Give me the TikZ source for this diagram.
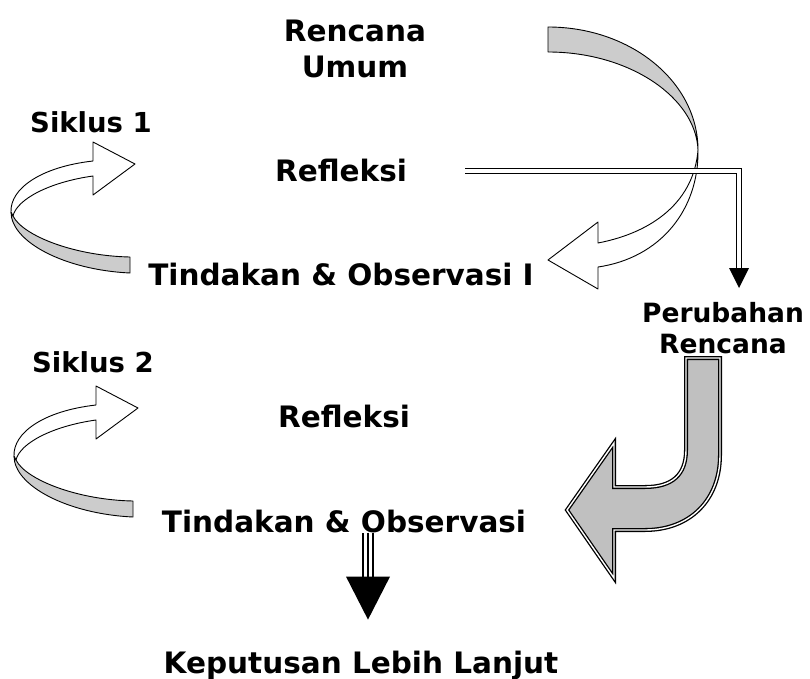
\documentclass[tikz,border=0pt]{standalone}
\usepackage{fontspec}
\setmainfont{DejaVu Sans}
\definecolor{ribbongray}{HTML}{CCCCCC}
\definecolor{bentgray}{HTML}{C0C0C0}

\begin{document}
\begin{tikzpicture}[x=1pt,y=-1pt]

\tikzset{stage/.style={font=\fontsize{29.5}{36}\selectfont\bfseries,inner sep=0pt,anchor=base},
cyclelabel/.style={font=\fontsize{27.5}{32}\selectfont\bfseries,inner sep=0pt,anchor=base},
changelabel/.style={font=\fontsize{26.5}{31}\selectfont\bfseries,inner sep=0pt,align=center},
ribbon/.style={fill=ribbongray,draw=black,line width=0.9pt,line join=round},
face/.style={fill=white,draw=black,line width=0.9pt,line join=round},
bent/.style={fill=bentgray,draw=black,line width=1.3pt,double=white,double distance=1.4pt,line join=miter},
dbl/.style={draw=black,line width=1.8pt,double=white,double distance=3.2pt},
triple/.style={draw=black,line width=2.5pt,double=white,double distance=7.5pt},
triplemid/.style={draw=black,line width=2.5pt},
cyclearrow/.pic={
  \filldraw[ribbon] (-124,48) .. controls (-124,78) and (-70,106) .. (-5,109) -- (-5,93)
    .. controls (-60,92) and (-112,72) .. (-122,52) -- cycle;
  \filldraw[face] (0,0) -- (-42,-22) -- (-42,-3) .. controls (-95,3) and (-125,25) .. (-124,48)
    -- (-122,52) .. controls (-118,35) and (-85,18) .. (-42,12) -- (-42,31) -- cycle;
}}

\useasboundingbox (0,0) rectangle (810,679);

% Cycle arrows
\pic at (135,164) {cyclearrow};
\pic at (138,408) {cyclearrow};

% Curved arrow from the general plan
\filldraw[ribbon] (548,27) .. controls (631,27) and (698,82) .. (698,150)
  .. controls (696,98) and (630,52) .. (548,52) -- cycle;
\filldraw[face] (698,150) .. controls (699,210) and (660,258) .. (598,267) -- (598,289)
  -- (548,260) -- (598,222) -- (598,243) .. controls (655,232) and (694,200) .. (698,150) -- cycle;

% Bent arrow from the changed plan
\filldraw[bent] (686,358) -- (720,358) -- (720,455) .. controls (720,500) and (690,530) .. (645,530)
  -- (614,530) -- (614,578) -- (567,510) -- (614,443) -- (614,487) -- (645,487)
  .. controls (672,487) and (686,475) .. (686,450) -- cycle;

% Stage labels
\node (plan) [stage,anchor=center,align=center] at (355,49) {Rencana\\Umum};
\node (cyc1) [cyclelabel] at (91,133) {Siklus 1};
\node (refl1) [stage] at (341,182) {Refleksi};
\node (act1) [stage] at (341,285) {Tindakan \& Observasi I};
\node (change) [changelabel] at (723,328) {Perubahan\\Rencana};
\node (cyc2) [cyclelabel] at (93,372) {Siklus 2};
\node (refl2) [stage] at (344,427) {Refleksi};
\node (act2) [stage] at (344,532) {Tindakan \& Observasi};
\node (decide) [stage] at (361,673) {Keputusan Lebih Lanjut};

% Reflection to changed plan
\coordinate (out1) at ([xshift=58pt]refl1.east);
\coordinate (into) at (739,268);
\draw[dbl] (out1) -| (into);
\fill (into) +(-10,0) -- +(10,0) -- +(0,20) -- cycle;

% Action to final decision
\coordinate (drop) at ([xshift=24pt]act2.south);
\draw[triple] (drop) -- ++(0,44) coordinate (drophead);
\draw[triplemid] (drop) -- (drophead);
\fill (drophead) +(-22,0) -- +(22,0) -- +(0,43) -- cycle;

\end{tikzpicture}
\end{document}
